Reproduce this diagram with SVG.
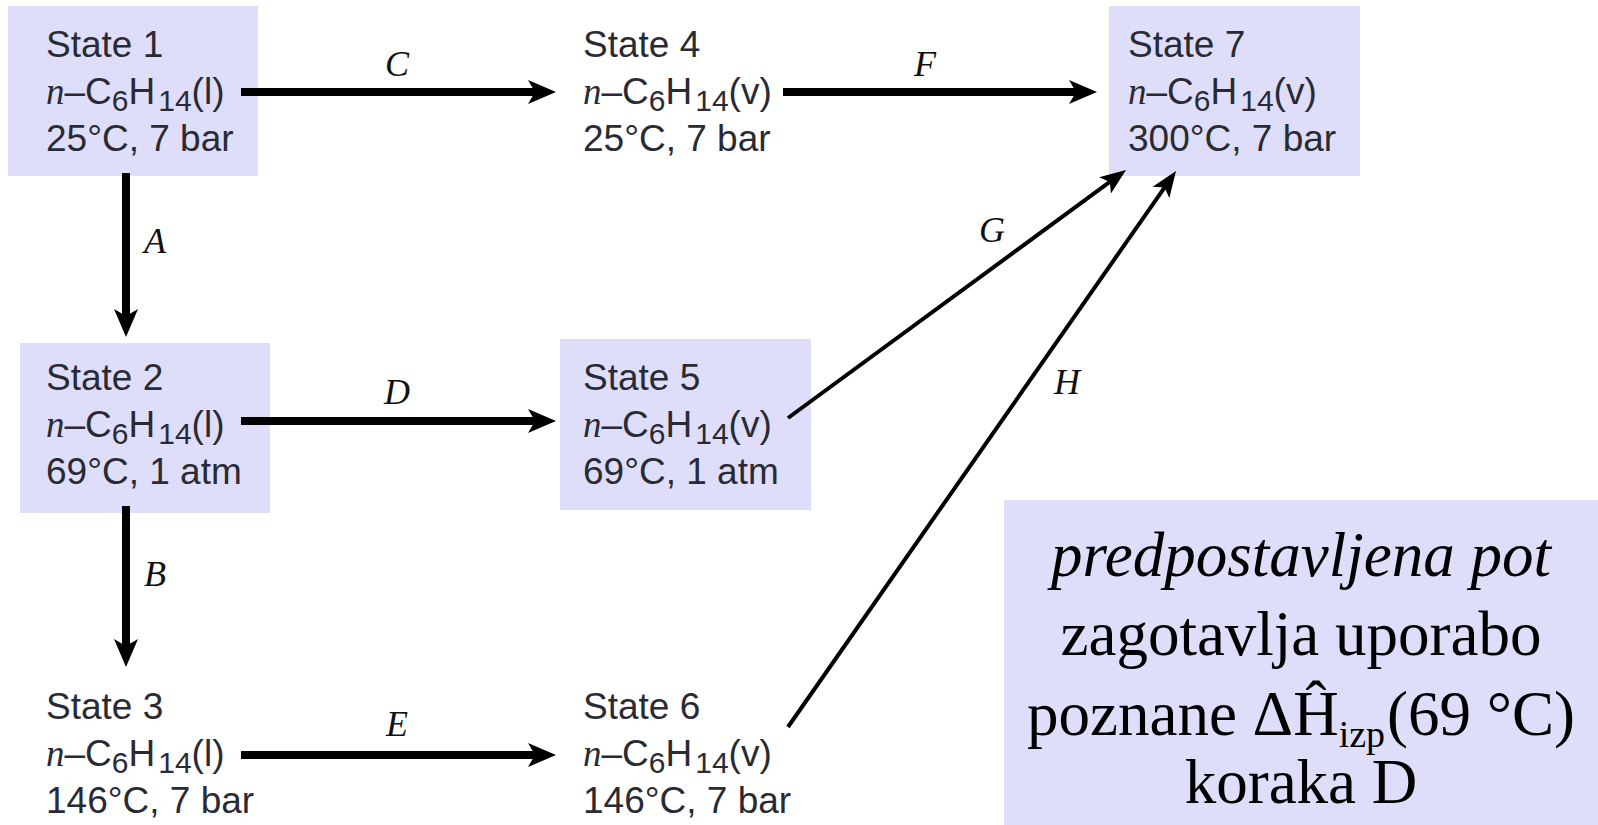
<svg xmlns="http://www.w3.org/2000/svg" width="1598" height="825" viewBox="0 0 1598 825">
<style>
.bg{fill:#ffffff}
.box{fill:#dedefb}
.st{font-family:"Liberation Sans",Arial,sans-serif;font-size:37px;fill:#2a2a34}
.it{font-family:"Liberation Serif","Times New Roman",serif;font-style:italic}
.sub{font-size:30px}
.lbl{font-family:"Liberation Serif","Times New Roman",serif;font-style:italic;font-size:36px;fill:#111;text-anchor:middle}
.thick{stroke:#000;stroke-width:8;fill:none}
.thin{stroke:#000;stroke-width:4;fill:none}
.note{font-family:"Liberation Serif","Times New Roman",serif;font-size:63px;fill:#000;text-anchor:middle}
</style>
<defs>
<marker id="ah" viewBox="0 0 28 24" refX="8" refY="12" markerWidth="28" markerHeight="24" markerUnits="userSpaceOnUse" orient="auto">
<path d="M0,0 L28,12 L0,24 L7,12 Z" fill="#000"/>
</marker>
<marker id="ah2" viewBox="0 0 26 20" refX="8" refY="10" markerWidth="26" markerHeight="20" markerUnits="userSpaceOnUse" orient="auto">
<path d="M0,0 L26,10 L0,20 L6,10 Z" fill="#000"/>
</marker>
</defs>
<rect class="bg" x="0" y="0" width="1598" height="825"/>

<g id="state1">
<rect class="box" x="8" y="6" width="250" height="170"/>
<text class="st" x="46" y="57">State 1</text>
<text class="st" x="46" y="104"><tspan class="it">n</tspan>–C<tspan class="sub" dy="7">6</tspan><tspan dy="-7">H</tspan><tspan class="sub" dx="3" dy="7">14</tspan><tspan dy="-7">(l)</tspan></text>
<text class="st" x="46" y="151">25°C, 7 bar</text>
</g>

<g id="state4">
<text class="st" x="583" y="57">State 4</text>
<text class="st" x="583" y="104"><tspan class="it">n</tspan>–C<tspan class="sub" dy="7">6</tspan><tspan dy="-7">H</tspan><tspan class="sub" dx="3" dy="7">14</tspan><tspan dy="-7">(v)</tspan></text>
<text class="st" x="583" y="151">25°C, 7 bar</text>
</g>

<g id="state7">
<rect class="box" x="1109" y="6" width="251" height="170"/>
<text class="st" x="1128" y="57">State 7</text>
<text class="st" x="1128" y="104"><tspan class="it">n</tspan>–C<tspan class="sub" dy="7">6</tspan><tspan dy="-7">H</tspan><tspan class="sub" dx="3" dy="7">14</tspan><tspan dy="-7">(v)</tspan></text>
<text class="st" x="1128" y="151">300°C, 7 bar</text>
</g>

<g id="state2">
<rect class="box" x="20" y="343" width="250" height="170"/>
<text class="st" x="46" y="390">State 2</text>
<text class="st" x="46" y="437"><tspan class="it">n</tspan>–C<tspan class="sub" dy="7">6</tspan><tspan dy="-7">H</tspan><tspan class="sub" dx="3" dy="7">14</tspan><tspan dy="-7">(l)</tspan></text>
<text class="st" x="46" y="484">69°C, 1 atm</text>
</g>

<g id="state5">
<rect class="box" x="560" y="339" width="251" height="171"/>
<text class="st" x="583" y="390">State 5</text>
<text class="st" x="583" y="437"><tspan class="it">n</tspan>–C<tspan class="sub" dy="7">6</tspan><tspan dy="-7">H</tspan><tspan class="sub" dx="3" dy="7">14</tspan><tspan dy="-7">(v)</tspan></text>
<text class="st" x="583" y="484">69°C, 1 atm</text>
</g>

<g id="state3">
<text class="st" x="46" y="719">State 3</text>
<text class="st" x="46" y="766"><tspan class="it">n</tspan>–C<tspan class="sub" dy="7">6</tspan><tspan dy="-7">H</tspan><tspan class="sub" dx="3" dy="7">14</tspan><tspan dy="-7">(l)</tspan></text>
<text class="st" x="46" y="813">146°C, 7 bar</text>
</g>

<g id="state6">
<text class="st" x="583" y="719">State 6</text>
<text class="st" x="583" y="766"><tspan class="it">n</tspan>–C<tspan class="sub" dy="7">6</tspan><tspan dy="-7">H</tspan><tspan class="sub" dx="3" dy="7">14</tspan><tspan dy="-7">(v)</tspan></text>
<text class="st" x="583" y="813">146°C, 7 bar</text>
</g>

<g id="note">
<rect class="box" x="1004" y="500" width="594" height="325"/>
<text class="note" x="1301" y="576" font-style="italic">predpostavljena pot</text>
<text class="note" x="1301" y="655">zagotavlja uporabo</text>
<text class="note" x="1301" y="735">poznane ΔĤ<tspan font-size="38" dy="12">izp</tspan><tspan dx="2" dy="-12">(69 °C)</tspan></text>
<text class="note" x="1301" y="803">koraka D</text>
</g>

<g id="connectors">
<line class="thick" x1="241" y1="92" x2="536" y2="92" marker-end="url(#ah)"/>
<line class="thick" x1="783" y1="92" x2="1077" y2="92" marker-end="url(#ah)"/>
<line class="thick" x1="241" y1="421" x2="536" y2="421" marker-end="url(#ah)"/>
<line class="thick" x1="241" y1="755" x2="536" y2="755" marker-end="url(#ah)"/>
<line class="thick" x1="126" y1="173" x2="126" y2="317" marker-end="url(#ah)"/>
<line class="thick" x1="126" y1="506" x2="126" y2="647" marker-end="url(#ah)"/>
<line class="thin" x1="788" y1="418" x2="1111.5" y2="180.7" marker-end="url(#ah2)"/>
<line class="thin" x1="788" y1="727" x2="1165.7" y2="185.8" marker-end="url(#ah2)"/>
<text class="lbl" x="397" y="76">C</text>
<text class="lbl" x="925" y="76">F</text>
<text class="lbl" x="155" y="253">A</text>
<text class="lbl" x="397" y="404">D</text>
<text class="lbl" x="155" y="586">B</text>
<text class="lbl" x="397" y="736">E</text>
<text class="lbl" x="992" y="242">G</text>
<text class="lbl" x="1067" y="394">H</text>
</g>
</svg>
